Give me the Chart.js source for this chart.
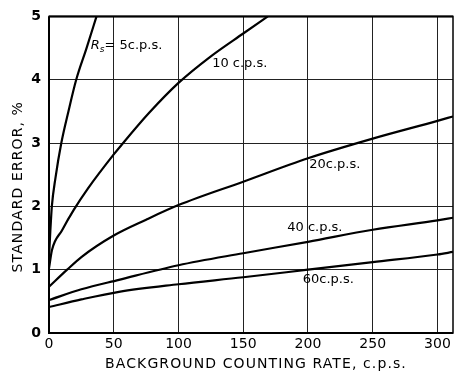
<!DOCTYPE html>
<html>
<head>
<meta charset="utf-8">
<script src="https://cdn.jsdelivr.net/npm/chart.js@4.4.1/dist/chart.umd.min.js"></script>
<style>
  html, body { margin: 0; padding: 0; background: #fff; }
  #wrap { width: 454px; height: 372px; }
</style>
</head>
<body>
<div id="wrap"><canvas id="c" width="454" height="372"></canvas></div>
<script>
// Background counting rate (c.p.s.) and standard error (%) for each source rate
const rs5Rate  = [0, 0.5, 1, 2.2, 5, 9.5, 15, 21, 29, 36.7];
const rs5Err   = [1.15, 1.4, 1.6, 2.0, 2.45, 3.0, 3.5, 4.0, 4.5, 5.0];

const rs10Rate = [0, 2.3, 10, 19, 30, 50, 56, 77, 100, 125, 150, 169];
const rs10Err  = [1.02, 1.31, 1.62, 1.94, 2.28, 2.82, 2.97, 3.47, 3.95, 4.37, 4.73, 5.0];

const rs20Rate = [0, 14, 25, 50, 75, 100, 150, 200, 250, 300, 312];
const rs20Err  = [0.73, 1.0, 1.2, 1.54, 1.79, 2.02, 2.39, 2.76, 3.07, 3.35, 3.42];

const rs40Rate = [0, 25, 54, 100, 150, 200, 250, 300, 312];
const rs40Err  = [0.52, 0.69, 0.84, 1.07, 1.26, 1.44, 1.63, 1.78, 1.82];

const rs60Rate = [0, 25, 54, 100, 150, 200, 250, 300, 312];
const rs60Err  = [0.41, 0.53, 0.65, 0.77, 0.88, 1.0, 1.12, 1.24, 1.28];

const xTicks = [0, 50, 100, 150, 200, 250, 300];
const yTicks = [0, 1, 2, 3, 4, 5];

const xTitle = 'BACKGROUND COUNTING RATE, c.p.s.';
const yTitle = 'STANDARD ERROR, %';

// Curve captions, anchored in data units (left edge, vertical middle)
const curveLabels = [
  { x: 32.3, y: 4.54, sub: true,  text: '= 5c.p.s.' },
  { x: 126,  y: 4.25, text: '10 c.p.s.' },
  { x: 201,  y: 2.66, text: '20c.p.s.' },
  { x: 184,  y: 1.67, text: '40 c.p.s.' },
  { x: 196,  y: 0.85, text: '60c.p.s.' }
];

const FONT = '"DejaVu Sans", sans-serif';

function pts(xs, ys) { return xs.map((x, i) => ({ x: x, y: ys[i] })); }

function series(xs, ys) {
  return {
    data: pts(xs, ys),
    borderColor: '#000',
    borderWidth: 2.2,
    pointRadius: 0,
    fill: false,
    cubicInterpolationMode: 'monotone'
  };
}

const frameAndLabels = {
  id: 'frameAndLabels',
  afterDatasetsDraw(chart) {
    const { ctx, chartArea: a, scales: { x, y } } = chart;
    ctx.save();
    // plot frame
    ctx.strokeStyle = '#000';
    ctx.lineWidth = 1.5;
    ctx.strokeRect(a.left, a.top, a.right - a.left, a.bottom - a.top);
    ctx.lineWidth = 2;
    ctx.beginPath();
    ctx.moveTo(a.left, a.top); ctx.lineTo(a.right, a.top);
    ctx.moveTo(a.left, a.top); ctx.lineTo(a.left, a.bottom); ctx.lineTo(a.right, a.bottom);
    ctx.stroke();

    ctx.fillStyle = '#000';
    ctx.textBaseline = 'middle';
    ctx.textAlign = 'left';
    curveLabels.forEach(l => {
      let px = x.getPixelForValue(l.x);
      const py = y.getPixelForValue(l.y);
      if (l.sub) {
        ctx.font = 'italic 13px ' + FONT;
        ctx.fillText('R', px, py);
        px += ctx.measureText('R').width;
        ctx.font = 'italic 9px ' + FONT;
        ctx.fillText('s', px, py + 4);
        px += ctx.measureText('s').width;
      }
      ctx.font = '13px ' + FONT;
      ctx.fillText(l.text, px, py);
    });

    // axis titles
    ctx.font = '14px ' + FONT;
    ctx.letterSpacing = '1.1px';
    ctx.textAlign = 'center';
    ctx.fillText(xTitle, (a.left + a.right) / 2 + 5, chart.height - 8);
    ctx.translate(18.5, (a.top + a.bottom) / 2 + 12);
    ctx.rotate(-Math.PI / 2);
    ctx.fillText(yTitle, 0, 0);
    ctx.restore();
  }
};

new Chart(document.getElementById('c'), {
  type: 'line',
  data: {
    datasets: [
      series(rs5Rate, rs5Err),
      series(rs10Rate, rs10Err),
      series(rs20Rate, rs20Err),
      series(rs40Rate, rs40Err),
      series(rs60Rate, rs60Err)
    ]
  },
  options: {
    responsive: false,
    animation: false,
    events: [],
    layout: { padding: { top: 15, right: 1, left: 0, bottom: 0 } },
    plugins: { legend: { display: false }, tooltip: { enabled: false } },
    scales: {
      x: {
        type: 'linear',
        min: 0,
        max: 312,
        afterFit(s) { s.height = 39; },
        afterBuildTicks(s) { s.ticks = xTicks.map(v => ({ value: v })); },
        grid: { color: '#222', lineWidth: 1, drawTicks: false },
        border: { display: false },
        ticks: {
          color: '#000',
          padding: 3,
          maxRotation: 0,
          font: { family: FONT, size: 14 }
        }
      },
      y: {
        type: 'linear',
        min: 0,
        max: 5,
        afterFit(s) { s.width = 49; },
        afterBuildTicks(s) { s.ticks = yTicks.map(v => ({ value: v })); },
        grid: { color: '#222', lineWidth: 1, drawTicks: false },
        border: { display: false },
        ticks: {
          color: '#000',
          padding: 8,
          font: { family: FONT, size: 14, weight: 'bold' }
        }
      }
    }
  },
  plugins: [frameAndLabels]
});
</script>
</body>
</html>
